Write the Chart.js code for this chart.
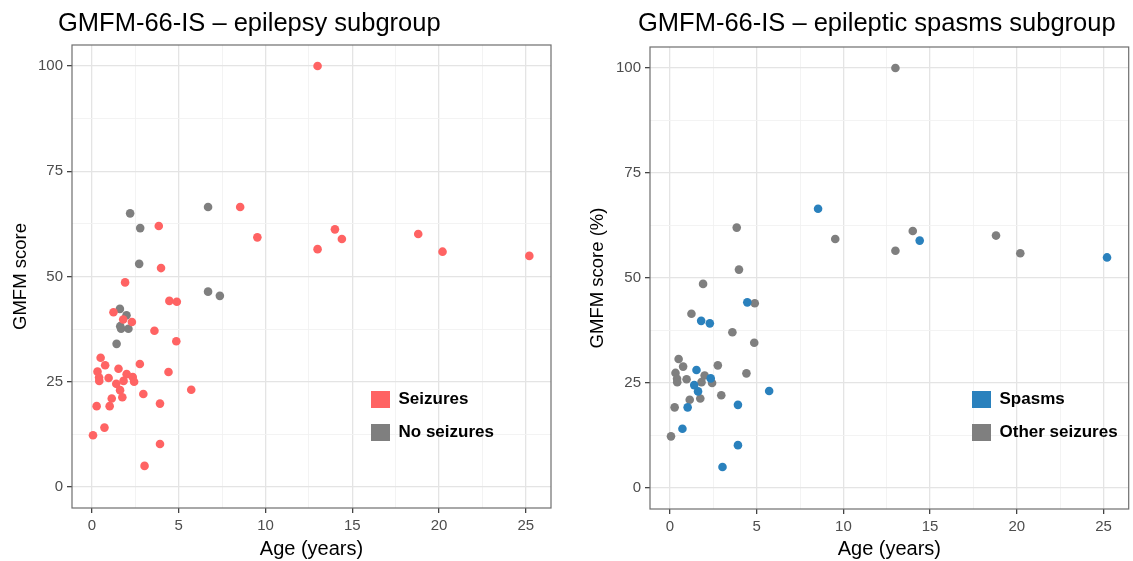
<!DOCTYPE html>
<html>
<head>
<meta charset="utf-8">
<script src="https://cdn.jsdelivr.net/npm/chart.js@4"></script>
<style>
	body { margin: 0; background: #fff; }
	.panel { position: absolute; top: 0; height: 561px; }
	#left { left: 0; width: 566px; }
	#right { left: 566px; width: 567px; }
</style>
</head>
<body>
<div class="panel" id="left"><canvas id="epilepsyChart"></canvas></div>
<div class="panel" id="right"><canvas id="spasmsChart"></canvas></div>
<script>
// patients with seizures (age in years, GMFM-66-IS score), spasms flag for the right panel
const seizureAge = [13.0, 8.54, 9.53, 14.0, 14.4, 13.0, 18.8, 20.2, 25.2, 3.85, 3.98, 1.91, 4.46, 4.89, 1.24, 1.8, 2.3, 3.6, 4.86, 0.5, 0.76, 2.76, 0.32, 1.53, 4.41, 0.41, 0.42, 0.96, 2.0, 2.35, 2.43, 1.82, 1.4, 1.62, 5.72, 1.75, 1.14, 2.96, 0.27, 1.02, 3.92, 0.72, 0.06, 3.92, 3.03]
const seizureScore = [100, 66.5, 59.3, 61.2, 58.9, 56.5, 60.1, 55.9, 54.9, 62.0, 52.0, 48.6, 44.2, 44.0, 41.5, 39.8, 39.2, 37.1, 34.6, 30.7, 28.9, 29.2, 27.4, 28.1, 27.3, 26.0, 25.2, 25.9, 26.8, 26.1, 25.0, 25.2, 24.5, 23.0, 23.1, 21.3, 21.0, 22.1, 19.2, 19.2, 19.8, 14.1, 12.3, 10.2, 5.0]
const isSpasms = [0, 1, 0, 0, 1, 0, 0, 0, 1, 0, 0, 0, 1, 0, 0, 1, 1, 0, 0, 0, 0, 0, 0, 1, 0, 0, 0, 0, 0, 1, 0, 0, 1, 1, 1, 0, 0, 0, 0, 1, 1, 1, 0, 1, 1]

// patients without seizures
const noSeizureAge = [6.69, 2.2, 2.78, 2.72, 6.69, 7.37, 1.61, 1.99, 1.63, 1.68, 2.1, 1.42]
const noSeizureScore = [66.5, 65.0, 61.5, 53.0, 46.4, 45.4, 42.3, 40.8, 38.2, 37.6, 37.6, 34.0]

const xTicks = [0, 5, 10, 15, 20, 25]
const yTicks = [0, 25, 50, 75, 100]

const RED = '#ff6363'
const GREY = '#7f7f7f'
const BLUE = '#2a81bd'

Chart.defaults.font.family = "'Liberation Sans', Arial, sans-serif"
Chart.defaults.animation = false

const points = (ages, scores, keep) =>
	ages.map((a, i) => ({ x: a, y: scores[i] })).filter((p, i) => !keep || keep(i))

// ggplot-ish panel: full border, title offset, legend inside the panel
const ggPanel = {
	id: 'ggPanel',
	afterLayout(chart, args, opts) {
		const t = chart.titleBlock
		t.left += opts.titleShift
		t.right = t.left + 700
		const lg = chart.legend
		lg.left = opts.legendX
		lg.right = lg.left + 300
		lg.top = opts.legendY
		lg.bottom = lg.top + 200
	},
	afterDatasetsDraw(chart) {
		const { ctx, chartArea: a } = chart
		ctx.save()
		ctx.strokeStyle = '#6e6e6e'
		ctx.lineWidth = 1.2
		ctx.strokeRect(a.left, a.top, a.right - a.left, a.bottom - a.top)
		ctx.restore()
	},
}

const axes = (yTitle, yTitlePad, yWidth, xHeight) => ({
	x: {
		type: 'linear',
		min: -1.15,
		max: 26.45,
		afterFit: (s) => { s.height = xHeight },
		border: { display: false },
		grid: {
			color: (c) => xTicks.includes(c.tick.value) ? '#e4e4e4' : '#f2f2f2',
			lineWidth: (c) => xTicks.includes(c.tick.value) ? 1.3 : 0.9,
			tickColor: (c) => xTicks.includes(c.tick.value) ? '#444' : 'rgba(0,0,0,0)',
			tickLength: 5,
		},
		ticks: {
			stepSize: 2.5,
			includeBounds: false,
			autoSkip: false,
			maxRotation: 0,
			padding: 4,
			color: '#4d4d4d',
			font: { size: 15 },
			callback: (v) => xTicks.includes(v) ? v : '',
		},
		title: {
			display: true,
			text: 'Age (years)',
			color: '#000',
			font: { size: 20 },
			padding: { top: 0, bottom: 0 },
		},
	},
	y: {
		type: 'linear',
		min: -5,
		max: 105,
		afterFit: (s) => { s.width = yWidth },
		border: { display: false },
		grid: {
			color: (c) => yTicks.includes(c.tick.value) ? '#e4e4e4' : '#f2f2f2',
			lineWidth: (c) => yTicks.includes(c.tick.value) ? 1.3 : 0.9,
			tickColor: (c) => yTicks.includes(c.tick.value) ? '#444' : 'rgba(0,0,0,0)',
			tickLength: 5,
		},
		ticks: {
			stepSize: 12.5,
			includeBounds: false,
			autoSkip: false,
			padding: 4,
			color: '#4d4d4d',
			font: { size: 15 },
			callback: (v) => yTicks.includes(v) ? v : '',
		},
		title: {
			display: true,
			text: yTitle,
			color: '#000',
			font: { size: 18.5 },
			padding: { top: yTitlePad, bottom: 0 },
		},
	},
})

const legendOpts = {
	position: 'chartArea',
	align: 'start',
	labels: {
		boxWidth: 19,
		boxHeight: 17,
		padding: 16,
		color: '#000',
		font: { size: 17, weight: 'bold' },
	},
}

// left panel
new Chart(document.getElementById('epilepsyChart'), {
	type: 'scatter',
	data: {
		datasets: [
			{
				label: 'Seizures',
				data: points(seizureAge, seizureScore),
				backgroundColor: RED,
				borderColor: RED,
				borderWidth: 0,
				pointBorderWidth: 0,
				pointRadius: 4.3,
			},
			{
				label: 'No seizures',
				data: points(noSeizureAge, noSeizureScore),
				backgroundColor: GREY,
				borderColor: GREY,
				borderWidth: 0,
				pointBorderWidth: 0,
				pointRadius: 4.3,
			},
		],
	},
	options: {
		responsive: true,
		maintainAspectRatio: false,
		layout: { padding: { left: 0, right: 15, top: 0, bottom: 0 } },
		scales: axes('GMFM score', 10, 72, 53),
		plugins: {
			title: {
				display: true,
				text: 'GMFM-66-IS – epilepsy subgroup',
				align: 'start',
				fullSize: false,
				color: '#000',
				font: { size: 25.5, weight: 'normal' },
				padding: { top: 8.5, bottom: 5.9 },
			},
			legend: legendOpts,
			tooltip: { enabled: false },
			ggPanel: { titleShift: -14, legendX: 355, legendY: 375 },
		},
	},
	plugins: [ggPanel],
})

// right panel
new Chart(document.getElementById('spasmsChart'), {
	type: 'scatter',
	data: {
		datasets: [
			{
				label: 'Spasms',
				data: points(seizureAge, seizureScore, (i) => isSpasms[i] === 1),
				backgroundColor: BLUE,
				borderColor: BLUE,
				borderWidth: 0,
				pointBorderWidth: 0,
				pointRadius: 4.3,
			},
			{
				label: 'Other seizures',
				data: points(seizureAge, seizureScore, (i) => isSpasms[i] === 0),
				backgroundColor: GREY,
				borderColor: GREY,
				borderWidth: 0,
				pointBorderWidth: 0,
				pointRadius: 4.3,
			},
		],
	},
	options: {
		responsive: true,
		maintainAspectRatio: false,
		layout: { padding: { left: 0, right: 2, top: 0, bottom: 0 } },
		scales: axes('GMFM score (%)', 21, 84, 52),
		plugins: {
			title: {
				display: true,
				text: 'GMFM-66-IS – epileptic spasms subgroup',
				align: 'start',
				fullSize: false,
				color: '#000',
				font: { size: 25.5, weight: 'normal' },
				padding: { top: 8.5, bottom: 7.9 },
			},
			legend: legendOpts,
			tooltip: { enabled: false },
			ggPanel: { titleShift: -12, legendX: 390, legendY: 375 },
		},
	},
	plugins: [ggPanel],
})
</script>
</body>
</html>
